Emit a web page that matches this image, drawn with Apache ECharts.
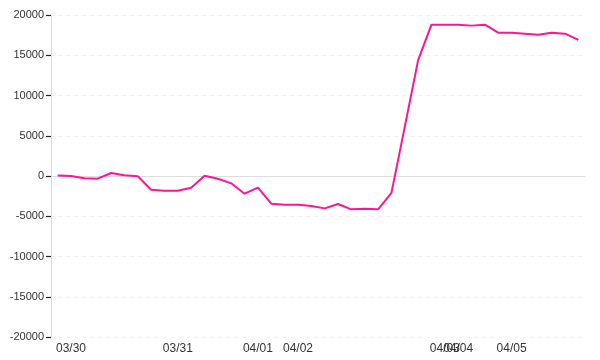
<!DOCTYPE html>
<html>
<head>
<meta charset="utf-8">
<script src="https://cdn.jsdelivr.net/npm/echarts@6/dist/echarts.min.js"></script>
<style>html,body{margin:0;padding:0;background:#fff;}#c{width:600px;height:360px;}</style>
</head>
<body>
<div id="c"></div>
<script>
var categories = [
  "03/29",
  "03/30","03/30","03/30","03/30","03/30","03/30","03/30","03/30",
  "03/31","03/31","03/31","03/31","03/31","03/31",
  "04/01","04/01","04/01",
  "04/02","04/02","04/02","04/02","04/02","04/02","04/02","04/02","04/02","04/02","04/02",
  "04/03",
  "04/04","04/04","04/04","04/04",
  "04/05","04/05","04/05","04/05","04/05","04/05"
];
var values = [
  50, 0, -290, -330, 370, 80, -40, -1700, -1820, -1820,
  -1450, 40, -350, -910, -2200, -1450, -3440, -3560, -3560, -3730,
  -4020, -3480, -4140, -4060, -4140, -2100, 6100, 14400, 18800, 18800,
  18800, 18680, 18800, 17800, 17800, 17680, 17550, 17800, 17680, 16900
];
var yTicks = { min: -20000, max: 20000, interval: 5000 };

var chart = echarts.init(document.getElementById('c'), null, { renderer: 'canvas' });
chart.setOption({
  animation: false,
  grid: { left: 51, right: 15, top: 15, bottom: 23, containLabel: false },
  xAxis: [{
    type: 'category',
    data: categories,
    boundaryGap: true,
    position: 'bottom',
    axisLine: { show: false, onZero: false },
    axisTick: { show: false },
    splitLine: { show: false },
    axisLabel: {
      color: '#333',
      fontSize: 12,
      fontFamily: 'Liberation Sans, Arial, sans-serif',
      margin: 6,
      hideOverlap: false,
      interval: function (idx, val) {
        return idx > 0 && val !== categories[idx - 1];
      }
    }
  }, {
    type: 'category',
    data: categories,
    boundaryGap: true,
    position: 'bottom',
    axisLine: { show: true, onZero: true, lineStyle: { color: '#ddd', width: 1 } },
    axisTick: { show: false },
    axisLabel: { show: false },
    splitLine: { show: false }
  }],
  yAxis: {
    type: 'value',
    min: yTicks.min,
    max: yTicks.max,
    interval: yTicks.interval,
    axisLine: { show: true, lineStyle: { color: '#ddd', width: 1 } },
    axisTick: { show: true, inside: false, length: 5, lineStyle: { color: '#222', width: 1.2, opacity: 1 } },
    axisLabel: {
      color: '#333',
      fontSize: 11,
      fontFamily: 'Liberation Sans, Arial, sans-serif',
      margin: 7,
      formatter: function (v) { return String(v); }
    },
    splitLine: { show: true, lineStyle: { color: '#eee', type: [3, 5], width: 1 } }
  },
  series: [{
    type: 'line',
    xAxisIndex: 0,
    data: values,
    showSymbol: false,
    symbol: 'none',
    lineStyle: { color: '#ff1493', width: 2 },
    itemStyle: { color: '#ff1493' },
    z: 3
  }]
});
</script>
</body>
</html>
